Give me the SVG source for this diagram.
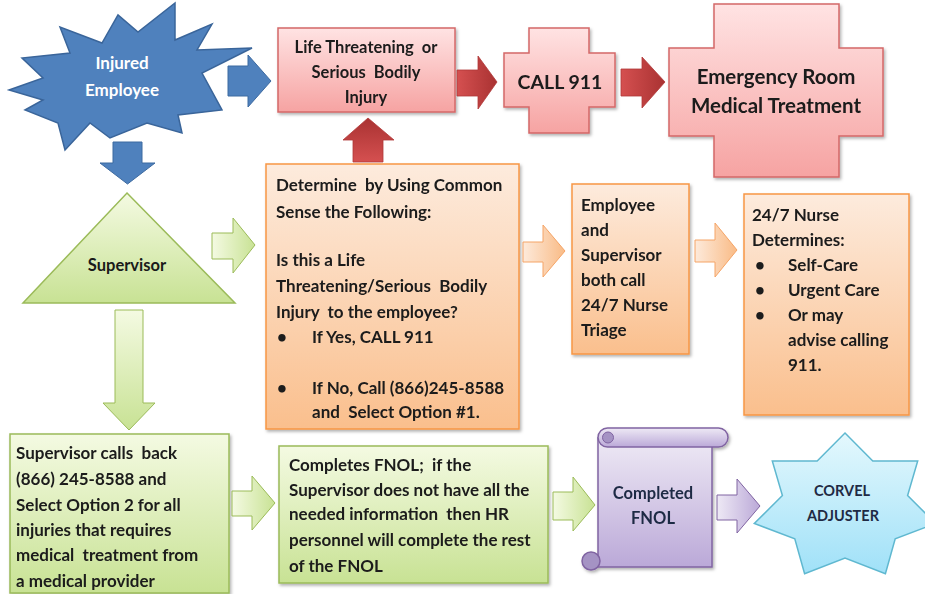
<svg xmlns="http://www.w3.org/2000/svg" width="925" height="594" viewBox="0 0 925 594">
<defs>
<linearGradient id="gPink" x1="0" y1="0" x2="0" y2="1"><stop offset="0" stop-color="#FFE3E3"/><stop offset="1" stop-color="#F6A3A2"/></linearGradient>
<linearGradient id="gRedH" x1="0" y1="0" x2="1" y2="0"><stop offset="0" stop-color="#D55050"/><stop offset="1" stop-color="#A93232"/></linearGradient>
<linearGradient id="gRedV" x1="0" y1="0" x2="0" y2="1"><stop offset="0" stop-color="#A93232"/><stop offset="1" stop-color="#D55050"/></linearGradient>
<linearGradient id="gOrange" x1="0" y1="0" x2="0" y2="1"><stop offset="0" stop-color="#FDEBDD"/><stop offset="1" stop-color="#FABF8D"/></linearGradient>
<linearGradient id="gOrangeH" x1="0" y1="0" x2="1" y2="0"><stop offset="0" stop-color="#FDEADB"/><stop offset="1" stop-color="#F9BB86"/></linearGradient>
<linearGradient id="gGreen" x1="0" y1="0" x2="0" y2="1"><stop offset="0" stop-color="#F4FAE2"/><stop offset="1" stop-color="#C8E294"/></linearGradient>
<linearGradient id="gGreenH" x1="0" y1="0" x2="1" y2="0"><stop offset="0" stop-color="#F4FAE2"/><stop offset="1" stop-color="#C8E294"/></linearGradient>
<linearGradient id="gPurple" x1="0" y1="0" x2="0" y2="1"><stop offset="0" stop-color="#EEE9F5"/><stop offset="1" stop-color="#BBA9D8"/></linearGradient>
<linearGradient id="gPurpleH" x1="0" y1="0" x2="1" y2="0"><stop offset="0" stop-color="#EEE9F5"/><stop offset="1" stop-color="#BBA9D8"/></linearGradient>
<linearGradient id="gCyan" x1="0" y1="0" x2="0" y2="1"><stop offset="0" stop-color="#E4F8FD"/><stop offset="1" stop-color="#A0E1F8"/></linearGradient>
<filter id="sh" x="-10%" y="-10%" width="125%" height="125%"><feDropShadow dx="1.5" dy="2" stdDeviation="1.5" flood-color="#000" flood-opacity="0.3"/></filter>
</defs>
<style>
text{font-family:Lato,"Liberation Sans",Arial,sans-serif;font-weight:700;fill:#1a1a1a;font-size:17px;white-space:pre}
.c{text-anchor:middle}
.pink{fill:url(#gPink);stroke:#D46868;stroke-width:1.5}
.orange{fill:url(#gOrange);stroke:#F79646;stroke-width:1.5}
.green{fill:url(#gGreen);stroke:#9BBB59;stroke-width:1.5}
.purple{fill:url(#gPurple);stroke:#8064A2;stroke-width:1.5}
.aRed{fill:url(#gRedH);stroke:#B03838;stroke-width:0.8}
.aOrange{fill:url(#gOrangeH);stroke:#F5A466;stroke-width:1}
.aGreen{fill:url(#gGreenH);stroke:#9BBB59;stroke-width:1}
.aPurple{fill:url(#gPurpleH);stroke:#8064A2;stroke-width:1}
.aBlue{fill:#4F81BD;stroke:#3D6AA0;stroke-width:1}
.dk{fill:#1F2A44}
</style>

<g id="injured-employee">
<polygon points="9,90 43,78 22,58 70,53 60,27 102,43 118,15 138,32 175,3 175,40 212,24 197,50 252,48 202,73 222,110 178,115 182,133 147,123 110,138 90,123 65,150 58,123 25,110 43,100" fill="#4F81BD" stroke="#3A659A" stroke-width="1.5"/>
<text class="c" x="122" y="69" style="fill:#fff">Injured</text>
<text class="c" x="122" y="96" style="fill:#fff">Employee</text>
</g>

<g id="life-threatening" filter="url(#sh)">
<rect class="pink" x="278" y="28" width="177" height="84"/>
<text class="c" x="366" y="52.5" style="font-size:16.5px">Life Threatening  or</text>
<text class="c" x="366" y="77.5" style="font-size:16.5px">Serious  Bodily</text>
<text class="c" x="366" y="102.5" style="font-size:16.5px">Injury</text>
</g>

<g id="call-911" filter="url(#sh)">
<path class="pink" d="M529,28 H589 V53 H615 V107 H589 V133 H529 V107 H504 V53 H529 Z"/>
<text class="c" x="560" y="89" style="font-size:19.5px">CALL 911</text>
</g>

<g id="emergency-room" filter="url(#sh)">
<path class="pink" d="M714,4 H839 V48 H883 V136 H839 V177 H714 V136 H669 V48 H714 Z"/>
<text class="c" x="776" y="84" style="font-size:20.5px">Emergency Room</text>
<text class="c" x="776" y="113" style="font-size:20.5px">Medical Treatment</text>
</g>

<g id="supervisor">
<polygon points="127,193 235,303 23,303" fill="url(#gGreen)" stroke="#9BBB59" stroke-width="1.5"/>
<text class="c" x="127" y="271" style="font-size:16.5px">Supervisor</text>
</g>

<g id="determine" filter="url(#sh)">
<rect class="orange" x="266" y="164" width="253" height="265"/>
<text x="276" y="191">Determine  by Using Common</text>
<text x="276" y="218">Sense the Following:</text>
<text x="276" y="266">Is this a Life</text>
<text x="276" y="292">Threatening/Serious  Bodily</text>
<text x="276" y="318">Injury  to the employee?</text>
<text x="277" y="343">•</text>
<text x="312" y="343">If Yes, CALL 911</text>
<text x="277" y="394">•</text>
<text x="312" y="394">If No, Call (866)245-8588</text>
<text x="312" y="418">and  Select Option #1.</text>
</g>

<g id="nurse-triage" filter="url(#sh)">
<rect class="orange" x="572" y="184" width="117" height="170"/>
<text x="581" y="211">Employee</text>
<text x="581" y="236">and</text>
<text x="581" y="261">Supervisor</text>
<text x="581" y="286">both call</text>
<text x="581" y="311">24/7 Nurse</text>
<text x="581" y="336">Triage</text>
</g>

<g id="nurse-determines" filter="url(#sh)">
<rect class="orange" x="744" y="194" width="165" height="221"/>
<text x="752" y="221">24/7 Nurse</text>
<text x="752" y="246">Determines:</text>
<text x="755" y="271">•</text>
<text x="788" y="271">Self-Care</text>
<text x="755" y="296">•</text>
<text x="788" y="296">Urgent Care</text>
<text x="755" y="321">•</text>
<text x="788" y="321">Or may</text>
<text x="788" y="346">advise calling</text>
<text x="788" y="371">911.</text>
</g>

<g id="supervisor-calls-back" filter="url(#sh)">
<rect class="green" x="10" y="434" width="219" height="159"/>
<text x="16" y="459">Supervisor calls  back</text>
<text x="16" y="485">(866) 245-8588 and</text>
<text x="16" y="511">Select Option 2 for all</text>
<text x="16" y="536">injuries that requires</text>
<text x="16" y="561">medical  treatment from</text>
<text x="16" y="587">a medical provider</text>
</g>

<g id="completes-fnol" filter="url(#sh)">
<rect class="green" x="279" y="446" width="269" height="137"/>
<text x="289" y="471">Completes FNOL;  if the</text>
<text x="289" y="496">Supervisor does not have all the</text>
<text x="289" y="520">needed information  then HR</text>
<text x="289" y="546">personnel will complete the rest</text>
<text x="289" y="572">of the FNOL</text>
</g>

<g id="completed-fnol" filter="url(#sh)">
<rect class="purple" x="598" y="438" width="114" height="129"/>
<rect class="purple" x="598" y="428" width="130" height="19" rx="9.5"/>
<circle cx="608" cy="437.5" r="5.5" fill="#A593C4" stroke="#8064A2" stroke-width="1"/>
<circle cx="591" cy="561" r="9" fill="#A593C4" stroke="#8064A2" stroke-width="1.5"/>
<text class="c dk" x="653" y="499" style="font-size:16.5px">Completed</text>
<text class="c dk" x="653" y="524" style="font-size:16.5px">FNOL</text>
</g>

<g id="corvel-adjuster">
<polygon points="845,433 872.8,461 917.7,460.9 907.6,495.6 935.7,523.5 895.2,538.8 885.4,573.7 845,558.1 804.6,573.7 794.8,538.8 754.3,523.5 782.4,495.6 772.3,460.9 817.2,461" fill="url(#gCyan)" stroke="#5FB8D0" stroke-width="1.5"/>
<text class="c dk" x="842" y="496" style="font-size:14.5px">CORVEL</text>
<text class="c dk" x="843" y="521" style="font-size:14.5px">ADJUSTER</text>
</g>

<g id="connectors">
<path class="aBlue" d="M228,66 H248 V55 L271,81 L248,107 V96 H228 Z"/>
<path class="aBlue" d="M113,142 H142 V163 H155 L127.5,184 L100,163 H113 Z"/>
<path class="aRed" d="M457,70 H478 V56 L497,82 L478,109 V96 H457 Z"/>
<path class="aRed" d="M621,69 H642 V57 L665,82 L642,108 V96 H621 Z"/>
<path d="M353,162 V140 H343 L368,118 L394,140 H383 V162 Z" fill="url(#gRedV)" stroke="#B03838" stroke-width="0.8"/>
<path class="aOrange" d="M523,242 H543 V225 L565,251 L543,277 V262 H523 Z"/>
<path class="aOrange" d="M695,240 H715 V223 L737,250 L715,277 V262 H695 Z"/>
<path class="aGreen" d="M212,233 H233 V218 L255,245 L233,273 V259 H212 Z"/>
<path d="M115,310 H143 V403 H155 L129,430 L103,403 H115 Z" fill="url(#gGreen)" stroke="#9BBB59" stroke-width="1"/>
<path class="aGreen" d="M232,491 H252 V476 L275,503 L252,530 V516 H232 Z"/>
<path class="aGreen" d="M553,492 H573 V477 L595,505 L573,531 V520 H553 Z"/>
<path class="aPurple" d="M717,495 H737 V479 L760,506 L737,533 V520 H717 Z"/>
</g>
</svg>
